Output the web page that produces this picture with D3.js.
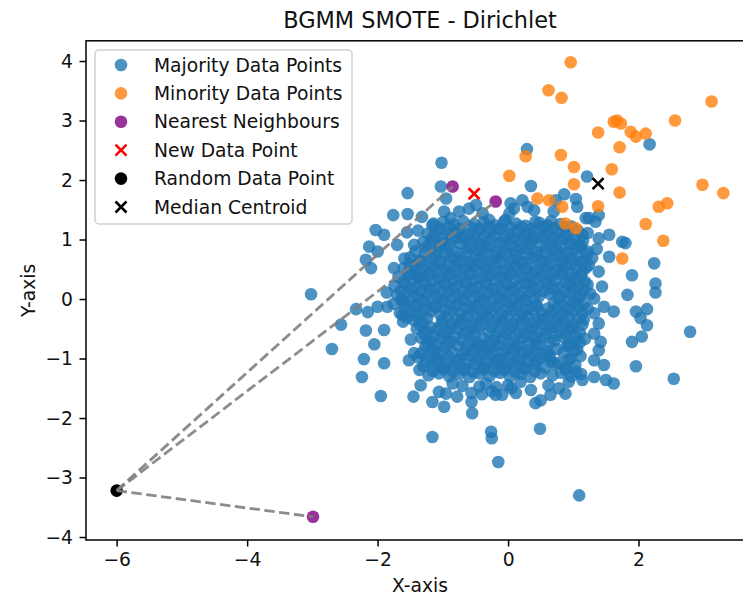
<!DOCTYPE html>
<html>
<head>
<meta charset="utf-8">
<script src="https://cdn.jsdelivr.net/npm/d3@7"></script>
<style>
  body { margin: 0; background: #fff; }
  svg { display: block; }
  text { font-family: "DejaVu Sans", sans-serif; fill: #111; }
</style>
</head>
<body>
<svg id="chart" width="743" height="597"></svg>
<script>
// ---- data ----
const majorityPoints = [
  // upper / left fringe
  [-1.02,2.29],[-1.03,1.89],[-1.54,1.78],[-0.95,1.69],[-1.76,1.41],[-1.54,1.43],[-1.32,1.38],[-1.16,1.24],
  [-2.03,1.16],[-1.90,1.08],[-2.13,0.88],[-2.00,0.80],[-1.70,0.91],[-1.44,0.91],[-2.18,0.66],[-2.10,0.52],
  [-1.75,0.52],[-1.59,0.68],[-1.41,0.40],
  [-0.98,1.47],[-0.88,1.36],[-0.75,1.47],[-0.60,1.52],[-0.49,1.58],[-0.39,1.44],[-0.29,1.33],
  [0.04,1.61],[0.09,1.52],[0.22,1.66],[0.30,1.55],[0.40,1.49],[0.73,1.66],[0.70,1.47],[-0.04,1.33],
  [0.02,1.44],[0.42,1.30],[0.60,1.24],
  [0.29,2.52],[0.35,1.90],[0.86,1.76],[1.21,2.06],[2.17,2.60],[1.04,1.68],[1.06,1.55],[1.19,1.36],
  [1.14,1.08],[1.09,0.88],[1.39,1.41],[1.34,1.30],[1.24,1.36],[1.39,1.02],[1.55,1.08],[1.75,0.96],
  [1.80,0.94],[1.55,0.71],[2.24,0.60],[1.24,0.57],[1.39,0.46],[1.90,0.40],
  // right fringe
  [1.83,0.07],[2.26,0.26],[2.26,0.11],[1.96,-0.21],[2.13,-0.17],[2.03,-0.32],[2.13,-0.44],[1.90,-0.72],
  [2.05,-0.63],[2.79,-0.55],[1.96,-1.13],[2.54,-1.34],[1.44,0.21],[1.32,0.01],[1.47,-0.13],[1.62,-0.21],
  [1.32,-0.24],[1.39,-0.41],[1.32,-0.58],[1.42,-0.72],[1.39,-0.86],[1.32,-1.03],[1.47,-1.11],[1.32,-1.31],
  [1.50,-1.36],[1.62,-1.42],
  // left / lower fringe
  [-3.02,0.08],[-2.70,-0.84],[-2.56,-0.43],[-2.33,-0.17],[-2.15,-0.22],[-2.00,-0.13],[-1.85,-0.13],
  [-1.86,0.11],[-2.18,-0.53],[-1.90,-0.52],[-2.05,-0.76],[-2.21,-1.01],[-1.90,-1.08],[-2.24,-1.31],
  [-1.95,-1.63],[-1.52,-1.03],[-1.36,-1.19],[-1.34,-1.45],[-1.45,-1.64],[-1.16,-1.73],[-1.64,-0.02],
  [-1.62,-0.27],[-1.44,-0.91],
  [-1.16,-2.32],[-0.26,-2.23],[-0.25,-2.34],[0.49,-2.18],[-0.15,-2.74],[1.09,-3.30],
  [-0.98,-1.81],[-1.06,-1.56],[-0.95,-1.59],[-0.78,-1.64],[-0.56,-1.73],[-0.55,-1.92],[-0.56,-1.58],
  [-0.19,-1.61],[-0.09,-1.61],[0.42,-1.75],[0.50,-1.70],[0.65,-1.61],[0.88,-1.59],[0.19,-1.39],
  [0.35,-1.53],[-0.44,-1.47],[-0.34,-1.42],[0.93,-1.39],[1.14,-1.36],
  [-0.18,-1.48],[0.05,-1.50],[-0.70,-1.46],[0.62,-1.45],[0.78,-1.50],[-0.85,-1.42],
  [-0.25,-1.55],[0.00,-1.45],[0.12,-1.58],[-0.40,-1.60],
  // dense core
  [-1.14,1.27],[-0.99,1.30],[-0.83,1.25],[-0.69,1.31],[-0.52,1.26],[-0.37,1.29],[-0.20,1.24],[-0.06,1.30],
  [0.12,1.27],[0.27,1.23],[0.48,1.28],[0.66,1.31],[0.81,1.26],[0.97,1.22],
  [-1.55,1.12],[-1.38,1.15],[-1.23,1.10],[-1.06,1.16],[-0.91,1.11],[-0.76,1.14],[-0.60,1.09],[-0.45,1.15],
  [-0.31,1.12],[-0.15,1.17],[0.01,1.10],[0.16,1.14],[0.31,1.09],[0.45,1.16],[0.60,1.11],[0.76,1.13],
  [0.91,1.08],[1.07,1.15],[1.22,1.11],
  [-1.30,0.96],[-1.17,1.00],[-1.02,0.95],[-0.86,0.99],[-0.72,1.02],[-0.55,0.97],
  [-0.41,0.94],[-0.26,1.00],[-0.10,0.96],[0.05,1.01],[0.21,0.95],[0.37,0.99],[0.52,1.03],[0.68,0.96],
  [0.83,1.00],[0.99,0.94],[1.15,0.98],
  [-1.42,0.80],[-1.26,0.86],[-1.09,0.81],[-0.95,0.85],[-0.79,0.79],[-0.63,0.84],[-0.48,0.82],
  [-0.33,0.86],[-0.18,0.80],[-0.02,0.85],[0.13,0.81],[0.29,0.84],[0.44,0.79],[0.59,0.86],[0.75,0.82],
  [0.90,0.78],[1.06,0.85],[1.22,0.80],[1.36,0.84],
  [-1.50,0.70],[-1.35,0.65],[-1.19,0.69],[-1.03,0.64],[-0.88,0.70],[-0.71,0.66],[-0.57,0.63],
  [-0.41,0.69],[-0.26,0.65],[-0.11,0.70],[0.06,0.66],[0.21,0.63],[0.36,0.69],[0.52,0.65],[0.67,0.70],
  [0.83,0.64],[0.98,0.68],[1.13,0.63],[1.29,0.69],
  [-1.60,0.52],[-1.45,0.55],[-1.28,0.50],[-1.13,0.54],[-0.97,0.49],[-0.81,0.55],[-0.66,0.51],[-0.50,0.56],
  [-0.35,0.50],[-0.19,0.54],[-0.04,0.49],[0.12,0.55],[0.28,0.51],[0.43,0.48],[0.58,0.54],[0.74,0.50],
  [0.89,0.56],[1.05,0.51],[1.20,0.53],
  [-1.68,0.37],[-1.52,0.41],[-1.37,0.36],[-1.21,0.39],[-1.05,0.35],[-0.90,0.40],[-0.74,0.36],[-0.59,0.41],
  [-0.44,0.35],[-0.28,0.39],[-0.12,0.36],[0.03,0.41],[0.19,0.37],[0.34,0.34],[0.50,0.40],[0.65,0.36],
  [0.81,0.41],[0.96,0.35],[1.12,0.39],
  [-1.74,0.22],[-1.58,0.25],[-1.42,0.20],[-1.27,0.24],[-1.11,0.19],[-0.96,0.25],[-0.80,0.21],[-0.64,0.26],
  [-0.49,0.20],[-0.33,0.24],[-0.17,0.19],[-0.02,0.25],[0.14,0.21],[0.29,0.26],[0.45,0.20],[0.60,0.24],
  [0.76,0.19],[0.92,0.25],[1.07,0.21],[1.22,0.24],
  [-1.70,0.07],[-1.55,0.10],[-1.39,0.05],[-1.23,0.09],[-1.08,0.04],[-0.92,0.10],[-0.77,0.06],[-0.61,0.11],
  [-0.45,0.05],[-0.30,0.09],[-0.14,0.04],[0.01,0.10],[0.17,0.06],[0.33,0.11],[0.48,0.05],[0.64,0.09],
  [0.80,0.04],[0.95,0.10],[1.11,0.06],[1.26,0.09],
  [-1.75,-0.08],[-1.59,-0.05],[-1.44,-0.10],[-1.28,-0.06],[-1.12,-0.11],[-0.97,-0.05],[-0.81,-0.09],
  [-0.66,-0.04],[-0.50,-0.10],[-0.35,-0.06],[-0.19,-0.11],[-0.03,-0.05],[0.12,-0.09],[0.28,-0.04],
  [0.43,-0.10],[0.70,-0.06],[0.85,-0.11],[1.01,-0.05],[1.16,-0.09],
  [-1.66,-0.23],[-1.51,-0.20],[-1.35,-0.25],[-1.19,-0.21],[-1.04,-0.26],[-0.88,-0.20],[-0.72,-0.24],
  [-0.57,-0.19],[-0.41,-0.25],[-0.26,-0.21],[-0.10,-0.26],[0.06,-0.20],[0.21,-0.24],[0.37,-0.19],
  [0.52,-0.25],[0.68,-0.21],[0.83,-0.26],[0.99,-0.20],[1.14,-0.24],
  [-1.61,-0.38],[-1.45,-0.35],[-1.30,-0.40],[-1.01,-0.36],[-0.86,-0.41],[-0.70,-0.35],[-0.54,-0.39],
  [-0.39,-0.34],[-0.23,-0.40],[-0.08,-0.36],[0.08,-0.41],[0.23,-0.35],[0.39,-0.39],[0.54,-0.34],
  [0.70,-0.40],[0.85,-0.36],[1.01,-0.41],[1.16,-0.35],
  [-1.40,-0.50],[-1.24,-0.55],[-1.08,-0.51],[-0.93,-0.56],[-0.77,-0.50],[-0.61,-0.54],
  [-0.46,-0.49],[-0.14,-0.55],[0.01,-0.51],[0.17,-0.56],[0.32,-0.50],[0.48,-0.54],[0.63,-0.49],
  [0.79,-0.55],[0.94,-0.51],[1.10,-0.56],
  [-1.49,-0.68],[-1.33,-0.65],[-1.18,-0.70],[-1.02,-0.66],[-0.87,-0.71],[-0.55,-0.69],[-0.22,-0.70],
  [-0.07,-0.66],[0.09,-0.71],[0.24,-0.65],[0.40,-0.69],[0.55,-0.64],[0.71,-0.70],[0.87,-0.66],
  [1.02,-0.71],[1.18,-0.67],
  [-1.27,-0.80],[-1.12,-0.85],[-0.96,-0.81],[-0.65,-0.86],[-0.49,-0.80],[-0.33,-0.84],
  [-0.18,-0.79],[-0.02,-0.85],[0.13,-0.81],[0.29,-0.86],[0.44,-0.80],[0.75,-0.84],[0.91,-0.79],
  [1.06,-0.85],
  [-1.38,-0.98],[-1.22,-0.95],[-1.07,-1.00],[-0.91,-0.96],[-0.75,-1.01],[-0.60,-0.95],[-0.44,-0.99],
  [-0.29,-0.94],[-0.13,-1.00],[0.02,-0.96],[0.18,-1.01],[0.33,-0.95],[0.49,-0.99],[0.64,-0.94],
  [0.96,-1.00],[1.11,-0.96],
  [-1.30,-1.13],[-1.15,-1.10],[-0.99,-1.15],[-0.83,-1.11],[-0.68,-1.16],[-0.52,-1.10],[-0.37,-1.14],
  [-0.21,-1.09],[-0.05,-1.15],[0.10,-1.11],[0.26,-1.16],[0.41,-1.10],[0.72,-1.09],[0.88,-1.15],
  [1.03,-1.11],
  [-1.22,-1.28],[-1.06,-1.25],[-0.90,-1.30],[-0.75,-1.26],[-0.59,-1.31],[-0.44,-1.25],[-0.28,-1.29],
  [-0.12,-1.24],[0.03,-1.30],[0.19,-1.26],[0.34,-1.31],[0.50,-1.25],[0.81,-1.24],[0.97,-1.30],
  [1.12,-1.26],
  // in-between rows of the core
  [-1.06,1.19],[-0.91,1.21],[-0.75,1.18],[-0.59,1.22],[-0.44,1.19],[-0.28,1.21],[-0.13,1.18],[0.04,1.20],
  [0.20,1.22],[0.36,1.18],[0.54,1.21],[0.70,1.19],[0.88,1.20],
  [-1.14,1.06],[-0.99,1.03],[-0.83,1.07],[-0.67,1.04],[-0.52,1.06],[-0.37,1.03],[-0.21,1.07],
  [-0.05,1.05],[0.10,1.03],[0.25,1.06],[0.40,1.04],[0.55,1.07],[0.70,1.03],[0.86,1.05],[1.01,1.02],
  [-1.20,0.92],[-1.05,0.88],[-0.89,0.91],[-0.73,0.93],[-0.58,0.89],[-0.43,0.91],[-0.28,0.88],
  [-0.12,0.92],[0.03,0.90],[0.18,0.88],[0.34,0.92],[0.49,0.89],[0.65,0.91],[0.81,0.88],[0.96,0.92],[1.12,0.89],
  [-1.27,0.77],[-1.11,0.73],[-0.96,0.76],[-0.80,0.72],[-0.64,0.77],[-0.49,0.74],[-0.34,0.76],
  [-0.18,0.73],[-0.03,0.77],[0.13,0.74],[0.29,0.76],[0.44,0.72],[0.60,0.76],[0.75,0.74],[0.91,0.77],
  [1.06,0.73],[1.21,0.75],
  [-1.51,0.59],[-1.35,0.62],[-1.20,0.58],[-1.04,0.61],[-0.89,0.57],[-0.73,0.62],[-0.58,0.59],[-0.42,0.61],
  [-0.27,0.58],[-0.11,0.62],[0.04,0.59],[0.20,0.61],[0.35,0.57],[0.51,0.62],[0.66,0.58],[0.82,0.61],
  [0.97,0.59],[1.12,0.62],
  [-1.53,0.44],[-1.37,0.47],[-1.21,0.43],[-1.05,0.46],[-0.89,0.42],[-0.74,0.47],[-0.58,0.44],[-0.43,0.46],
  [-0.27,0.43],[-0.11,0.47],[0.05,0.44],[0.20,0.46],[0.36,0.42],[0.51,0.47],[0.67,0.44],[0.83,0.46],
  [0.98,0.43],[1.14,0.46],
  [-1.60,0.29],[-1.45,0.32],[-1.29,0.28],[-1.13,0.31],[-0.98,0.27],[-0.82,0.32],[-0.66,0.29],[-0.51,0.31],
  [-0.35,0.28],[-0.20,0.32],[-0.04,0.29],[0.11,0.31],[0.27,0.27],[0.42,0.32],[0.58,0.29],[0.73,0.31],
  [0.89,0.28],[1.04,0.32],[1.18,0.29],
  [-1.64,0.14],[-1.48,0.17],[-1.33,0.13],[-1.17,0.16],[-1.01,0.12],[-0.86,0.17],[-0.70,0.14],[-0.55,0.16],
  [-0.39,0.13],[-0.23,0.17],[-0.08,0.14],[0.08,0.16],[0.23,0.12],[0.39,0.17],[0.55,0.14],[0.70,0.16],
  [0.86,0.13],[1.01,0.17],[1.16,0.14],
  [-1.62,-0.01],[-1.47,0.02],[-1.31,-0.02],[-1.16,0.01],[-1.00,-0.03],[-0.84,0.02],[-0.69,-0.01],[-0.53,0.01],
  [-0.38,-0.02],[-0.22,0.02],[-0.06,-0.01],[0.09,0.01],[0.25,-0.03],[0.40,0.02],[0.77,0.01],[0.93,-0.02],
  [1.08,0.02],
  [-1.58,-0.16],[-1.42,-0.13],[-1.27,-0.17],[-1.11,-0.14],[-0.96,-0.18],[-0.80,-0.13],[-0.64,-0.16],
  [-0.49,-0.14],[-0.33,-0.17],[-0.17,-0.13],[-0.02,-0.16],[0.14,-0.14],[0.29,-0.18],[0.45,-0.13],
  [0.61,-0.16],[0.76,-0.14],[0.92,-0.17],[1.07,-0.13],[1.22,-0.16],
  [-1.55,-0.31],[-1.40,-0.28],[-1.24,-0.32],[-0.93,-0.29],[-0.78,-0.33],[-0.62,-0.28],[-0.46,-0.31],
  [-0.31,-0.29],[-0.15,-0.32],[0.00,-0.28],[0.16,-0.31],[0.31,-0.29],[0.47,-0.33],[0.62,-0.28],
  [0.78,-0.31],[0.93,-0.29],[1.09,-0.32],
  [-1.35,-0.43],[-1.19,-0.47],[-1.03,-0.44],[-0.88,-0.48],[-0.72,-0.43],[-0.56,-0.46],
  [-0.41,-0.44],[-0.25,-0.47],[-0.10,-0.43],[0.06,-0.46],[0.21,-0.44],[0.37,-0.48],[0.52,-0.43],
  [0.68,-0.46],[0.83,-0.44],[0.99,-0.47],[1.14,-0.43],
  [-1.29,-0.58],[-1.14,-0.62],[-0.98,-0.59],[-0.82,-0.63],[-0.67,-0.58],[-0.51,-0.61],
  [-0.20,-0.62],[-0.04,-0.58],[0.11,-0.61],[0.27,-0.59],[0.42,-0.63],[0.58,-0.58],[0.73,-0.61],
  [0.89,-0.59],[1.04,-0.62],
  [-1.24,-0.73],[-1.09,-0.77],[-0.93,-0.74],[-0.77,-0.78],[-0.46,-0.76],[-0.30,-0.73],
  [-0.15,-0.77],[0.01,-0.74],[0.16,-0.78],[0.32,-0.73],[0.47,-0.76],[0.63,-0.74],[0.94,-0.77],[1.10,-0.73],
  [-1.33,-0.91],[-1.17,-0.88],[-1.02,-0.92],[-0.86,-0.89],[-0.70,-0.93],[-0.55,-0.88],[-0.39,-0.91],
  [-0.24,-0.89],[-0.08,-0.92],[0.08,-0.88],[0.23,-0.91],[0.39,-0.89],[0.54,-0.93],[0.85,-0.90],[1.01,-0.88],
  [-1.26,-1.06],[-1.10,-1.03],[-0.95,-1.07],[-0.79,-1.04],[-0.63,-1.08],[-0.48,-1.03],[-0.32,-1.06],
  [-0.17,-1.04],[-0.01,-1.07],[0.14,-1.03],[0.30,-1.06],[0.45,-1.04],[0.77,-1.07],[0.92,-1.03],
  [-1.15,-1.21],[-0.99,-1.18],[-0.84,-1.22],[-0.68,-1.19],[-0.53,-1.23],[-0.37,-1.18],[-0.21,-1.21],
  [-0.06,-1.19],[0.10,-1.22],[0.25,-1.18],[0.41,-1.21],[0.88,-1.19],[1.04,-1.22],
  [-0.38,-0.66],[-0.71,-0.69],[-0.62,-0.76],[-0.30,-0.55],[-0.40,-0.79],[0.60,-0.88],[0.66,-1.05],
  [0.57,-1.15],[0.68,-1.28],[0.62,-0.97]
];

const minorityPoints = [
  [0.02,2.07],[0.27,2.40],[0.62,3.51],[0.82,3.38],[0.96,3.98],[3.12,3.32],[2.56,3.00],[1.62,2.98],
  [1.73,2.95],[1.67,3.00],[1.38,2.80],[1.88,2.81],[1.96,2.73],[2.11,2.78],[1.71,2.55],[0.81,2.42],
  [1.01,2.22],[1.59,2.18],[1.01,1.93],[1.71,1.79],[2.98,1.92],[3.30,1.78],[0.45,1.69],[0.63,1.66],
  [0.83,1.55],[1.38,1.56],[2.31,1.55],[2.44,1.61],[2.11,1.26],[0.88,1.27],[1.04,1.19],[2.38,0.98],
  [1.75,0.68]
];

const neighbourPoints = [[-0.85,1.89],[-0.19,1.64],[-2.99,-3.66]];
const newPoint = [-0.52,1.77];
const randomPoint = [-6.0,-3.22];
const medianCentroid = [1.38,1.94];

const xTicks = [-6,-4,-2,0,2];
const yTicks = [-4,-3,-2,-1,0,1,2,3,4];

const legendLabels = ["Majority Data Points","Minority Data Points","Nearest Neighbours",
                      "New Data Point","Random Data Point","Median Centroid"];

// ---- layout ----
const svg = d3.select("#chart");
const plotLeft = 86, plotRight = 754, plotTop = 40.8, plotBottom = 540;
const x = d3.scaleLinear().domain([-6.47, 3.77]).range([plotLeft, plotRight]);
const y = d3.scaleLinear().domain([-4.05, 4.34]).range([plotBottom, plotTop]);

const fontSize = 18.7;
const blue = "#1f77b4", orange = "#ff7f0e", purple = "#800080";
const R = 6.3;

const minus = d => (d < 0 ? "\u2212" + Math.abs(d) : String(d));

// axes
const gx = svg.append("g").attr("transform", `translate(0,${plotBottom})`)
  .call(d3.axisBottom(x).tickValues(xTicks).tickSize(6.5).tickPadding(6.5).tickFormat(minus));
const gy = svg.append("g").attr("transform", `translate(${plotLeft},0)`)
  .call(d3.axisLeft(y).tickValues(yTicks).tickSize(6.5).tickPadding(6.5).tickFormat(minus));
[gx, gy].forEach(g => {
  g.select(".domain").remove();
  g.selectAll(".tick line").attr("stroke", "#000").attr("stroke-width", 1.5);
  g.selectAll(".tick text").attr("font-size", fontSize).attr("font-family", "DejaVu Sans").attr("fill", "#111");
});

// scatter layers
const plot = svg.append("g");
function dots(data, color, opacity) {
  plot.append("g").selectAll("circle").data(data).join("circle")
    .attr("cx", d => x(d[0])).attr("cy", d => y(d[1])).attr("r", R)
    .attr("fill", color).attr("fill-opacity", opacity);
}
function cross(g, cx, cy, size, color) {
  const h = size / 2;
  g.append("path")
    .attr("d", `M${cx - h},${cy - h}L${cx + h},${cy + h}M${cx - h},${cy + h}L${cx + h},${cy - h}`)
    .attr("stroke", color).attr("stroke-width", 2.6).attr("fill", "none");
}

dots(majorityPoints, blue, 0.8);
dots(minorityPoints, orange, 0.8);
dots(neighbourPoints, purple, 0.8);
cross(plot, x(newPoint[0]), y(newPoint[1]), 11, "#ff0000");
dots([randomPoint], "#000", 1);
cross(plot, x(medianCentroid[0]), y(medianCentroid[1]), 11, "#000");

// dashed links from the random point to each neighbour
plot.append("g").selectAll("line").data(neighbourPoints).join("line")
  .attr("x1", x(randomPoint[0])).attr("y1", y(randomPoint[1]))
  .attr("x2", d => x(d[0])).attr("y2", d => y(d[1]))
  .attr("stroke", "#808080").attr("stroke-opacity", 0.9)
  .attr("stroke-width", 2.8).attr("stroke-dasharray", "10.4,4.5");

// frame (left, top, bottom spines; right spine lies past the canvas edge)
svg.append("rect").attr("x", plotLeft).attr("y", plotTop)
  .attr("width", plotRight - plotLeft).attr("height", plotBottom - plotTop)
  .attr("fill", "none").attr("stroke", "#000").attr("stroke-width", 1.5);

// titles
svg.append("text").attr("x", (plotLeft + plotRight) / 2).attr("y", 28)
  .attr("text-anchor", "middle").attr("font-size", 22.4).text("BGMM SMOTE - Dirichlet");
svg.append("text").attr("x", (plotLeft + plotRight) / 2).attr("y", 592)
  .attr("text-anchor", "middle").attr("font-size", fontSize).text("X-axis");
svg.append("text").attr("transform", `translate(35,${(plotTop + plotBottom) / 2}) rotate(-90)`)
  .attr("text-anchor", "middle").attr("font-size", fontSize).text("Y-axis");

// legend
const lg = svg.append("g");
lg.append("rect").attr("x", 95).attr("y", 50).attr("width", 257).attr("height", 174)
  .attr("rx", 4).attr("fill", "#fff").attr("fill-opacity", 0.8)
  .attr("stroke", "#d0d0d0").attr("stroke-width", 1.5);
const rowY = i => 65 + i * 28.4;
const legendMarks = [
  g => g.append("circle").attr("r", R).attr("fill", blue).attr("fill-opacity", 0.8),
  g => g.append("circle").attr("r", R).attr("fill", orange).attr("fill-opacity", 0.8),
  g => g.append("circle").attr("r", R).attr("fill", purple).attr("fill-opacity", 0.8),
  g => cross(g, 0, 0, 11, "#ff0000"),
  g => g.append("circle").attr("r", R).attr("fill", "#000"),
  g => cross(g, 0, 0, 11, "#000")
];
legendLabels.forEach((label, i) => {
  const g = lg.append("g").attr("transform", `translate(121,${rowY(i)})`);
  legendMarks[i](g);
  lg.append("text").attr("x", 154).attr("y", rowY(i)).attr("dy", "0.35em")
    .attr("font-size", fontSize).text(label);
});
</script>
</body>
</html>
